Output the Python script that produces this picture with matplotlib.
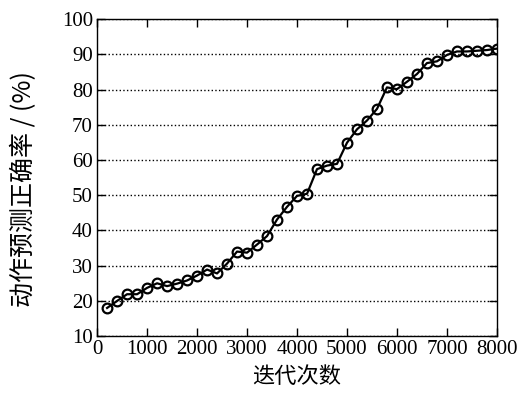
import matplotlib
matplotlib.use('Agg')
import matplotlib.pyplot as plt

# iterations and accuracy values
iterations = list(range(200, 8001, 200))
accuracy = [18.0, 20.0, 21.9, 21.9, 23.7, 25.0, 24.2, 24.9, 25.8, 27.2,
            28.9, 27.8, 30.6, 34.0, 33.7, 36.0, 38.4, 43.1, 46.7, 49.8,
            50.4, 57.4, 58.4, 58.9, 64.9, 68.7, 71.2, 74.5, 80.6, 80.1,
            82.2, 84.4, 87.5, 88.0, 89.8, 90.8, 90.8, 91.0, 91.2, 91.6]

x_ticks = [0, 1000, 2000, 3000, 4000, 5000, 6000, 7000, 8000]
y_ticks = [10, 20, 30, 40, 50, 60, 70, 80, 90, 100]

fig = plt.figure(figsize=(5.22, 4.05), dpi=100)
ax = fig.add_axes([0.186, 0.170, 0.766, 0.783])

ax.plot(iterations, accuracy, color='black', linewidth=1.6, marker='o',
        markersize=7, markerfacecolor='none', markeredgecolor='black',
        markeredgewidth=1.6, zorder=3)

ax.set_xlim(0, 8000)
ax.set_ylim(10, 100)
ax.set_xticks(x_ticks)
ax.set_yticks(y_ticks)
ax.set_xticklabels([str(t) for t in x_ticks], family='Liberation Serif', fontsize=15)
ax.set_yticklabels([str(t) for t in y_ticks], family='Liberation Serif', fontsize=15)
ax.tick_params(direction='in', length=6, width=1, top=True, right=True, pad=3)

# dotted horizontal grid only
ax.yaxis.grid(True, linestyle=':', color='black', linewidth=1)
ax.xaxis.grid(False)

for s in ax.spines.values():
    s.set_linewidth(1)

cjk = ['Noto Sans CJK SC', 'Liberation Serif']
ax.set_xlabel('迭代次数', fontsize=16, family=cjk)
ax.set_ylabel('动作预测正确率 / (%)', fontsize=18, family=cjk)
ax.xaxis.set_label_coords(0.5, -0.09)
ax.yaxis.set_label_coords(-0.15, 0.465)

fig.savefig('out.png', dpi=100)
